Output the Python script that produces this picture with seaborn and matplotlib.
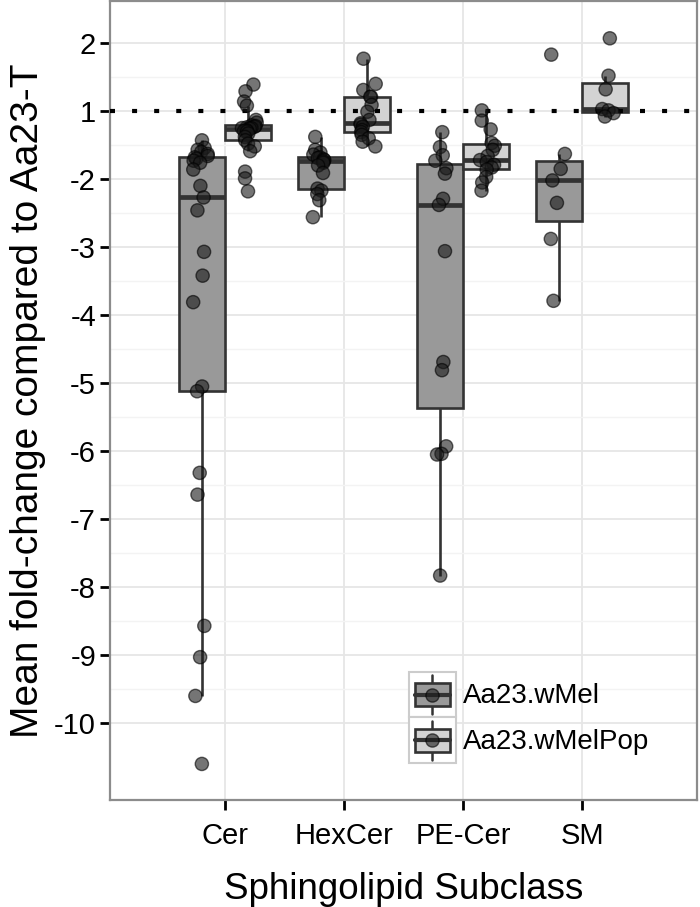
import numpy as np
import pandas as pd
import matplotlib
matplotlib.use('Agg')
import matplotlib.pyplot as plt
from matplotlib.patches import Patch, Rectangle
from matplotlib.lines import Line2D
from matplotlib.legend_handler import HandlerBase
import seaborn as sns

subclasses = ['Cer', 'HexCer', 'PE-Cer', 'SM']
groups = ['Aa23.wMel', 'Aa23.wMelPop']

# mean fold-change per lipid species
cer_wmel = [-1.43, -1.54, -1.57, -1.60, -1.63, -1.66, -1.68, -1.70, -1.73, -1.76, -1.86,
            -2.10, -2.27, -2.46, -3.07, -3.42, -3.81, -5.05, -5.12, -6.32, -6.64,
            -8.57, -9.03, -9.60, -10.60]
cer_wmelpop = [1.39, 1.29, 1.14, 1.08, -1.13, -1.17, -1.21, -1.22, -1.23, -1.24, -1.25,
               -1.25, -1.26, -1.28, -1.29, -1.30, -1.33, -1.38, -1.43, -1.48, -1.52,
               -1.59, -1.89, -1.99, -2.18]
hexcer_wmel = [-1.38, -1.57, -1.61, -1.64, -1.68, -1.69, -1.71, -1.72, -1.74, -1.76,
               -1.80, -1.91, -2.14, -2.17, -2.22, -2.31, -2.56]
hexcer_wmelpop = [1.77, 1.40, 1.31, 1.21, 1.21, 1.09, -1.01, -1.13, -1.18, -1.20,
                  -1.23, -1.28, -1.31, -1.35, -1.40, -1.45, -1.52]
pecer_wmel = [-1.31, -1.53, -1.65, -1.73, -1.84, -1.92, -2.29, -2.38, -3.06, -4.69,
              -4.81, -5.93, -6.04, -6.05, -7.83]
pecer_wmelpop = [1.01, -1.14, -1.27, -1.47, -1.51, -1.57, -1.66, -1.72, -1.75, -1.79,
                 -1.83, -1.86, -1.97, -2.05, -2.17]
sm_wmel = [1.83, -1.63, -1.85, -2.02, -2.35, -2.88, -3.79]
sm_wmelpop = [2.07, 1.52, 1.32, 1.03, 1.01, -1.03, -1.08]

tick_values = [2, 1, -2, -3, -4, -5, -6, -7, -8, -9, -10]
reference_value = 1

box_colors = {'Aa23.wMel': '#999999', 'Aa23.wMelPop': '#D3D3D3'}
point_colors = {'Aa23.wMel': '#1a1a1a', 'Aa23.wMelPop': '#1a1a1a'}
line_color = '#333333'


def to_axis(v):
    # fold changes have no (-1, 1) range, so 1 and -1 sit on the same spot
    v = np.asarray(v, dtype=float)
    return np.where(v > 0, v - 1, v + 1)


series = {
    ('Cer', 'Aa23.wMel'): cer_wmel,
    ('Cer', 'Aa23.wMelPop'): cer_wmelpop,
    ('HexCer', 'Aa23.wMel'): hexcer_wmel,
    ('HexCer', 'Aa23.wMelPop'): hexcer_wmelpop,
    ('PE-Cer', 'Aa23.wMel'): pecer_wmel,
    ('PE-Cer', 'Aa23.wMelPop'): pecer_wmelpop,
    ('SM', 'Aa23.wMel'): sm_wmel,
    ('SM', 'Aa23.wMelPop'): sm_wmelpop,
}
rows = []
for (sub, grp), vals in series.items():
    for v in vals:
        rows.append({'subclass': sub, 'group': grp, 'fold': v})
df = pd.DataFrame(rows)
df['pos'] = to_axis(df['fold'])


class BoxKey(HandlerBase):
    # ggplot-style boxplot legend key: bordered square, box, whisker and a dot
    def create_artists(self, legend, orig_handle, xdescent, ydescent,
                       width, height, fontsize, trans):
        x0, y0 = -xdescent, -ydescent
        cx, cy = x0 + width / 2, y0 + height / 2
        frame = Rectangle((x0, y0), width, height, fc='white', ec='#CCCCCC',
                          lw=1.5, transform=trans)
        whisk = Line2D([cx, cx], [y0 + 0.08 * height, y0 + 0.92 * height],
                       color=line_color, lw=1.8, transform=trans)
        box = Rectangle((x0 + 0.12 * width, y0 + 0.25 * height), 0.76 * width, 0.5 * height,
                        fc=orig_handle.get_facecolor(), ec=line_color, lw=1.9, transform=trans)
        med = Line2D([x0 + 0.12 * width, x0 + 0.88 * width], [cy, cy],
                     color=line_color, lw=3, transform=trans)
        dot = Line2D([cx], [cy], marker='o', ms=9.5, color='#1a1a1a', alpha=0.6,
                     mec='black', mew=1, transform=trans)
        return [frame, whisk, box, med, dot]


sns.set_theme(style='whitegrid')
plt.rcParams['font.family'] = ['Liberation Sans', 'DejaVu Sans']

fig = plt.figure(figsize=(7, 9.07), dpi=100)
ax = fig.add_axes([0.157, 0.118, 0.839, 0.881])

sns.boxplot(data=df, x='subclass', y='pos', hue='group', order=subclasses,
            hue_order=groups, palette=box_colors, saturation=1, width=0.77, gap=0,
            whis=1.5, showfliers=False, showcaps=False, linecolor=line_color,
            linewidth=1.9, medianprops={'color': line_color, 'linewidth': 3.4},
            legend=False, ax=ax)

ax.axhline(to_axis(reference_value), color='black', lw=3, dashes=(1.2, 4.1), zorder=3)

np.random.seed(3)
sns.stripplot(data=df, x='subclass', y='pos', hue='group', order=subclasses,
              hue_order=groups, dodge=True, jitter=0.14, palette=point_colors,
              size=9.5, alpha=0.6, linewidth=1, edgecolor='black', legend=False,
              ax=ax, zorder=4)

tick_pos = to_axis(tick_values)
ax.set_yticks(tick_pos)
ax.set_yticklabels([str(v) for v in tick_values])
ax.set_yticks(np.sort(tick_pos)[:-1] + 0.5, minor=True)
ax.set_ylim(-10.13, 1.62)
ax.set_xlim(-0.966, 3.966)

ax.grid(False)
ax.set_axisbelow(True)
ax.grid(which='major', axis='both', color='#E6E6E6', lw=1.3)
ax.grid(which='minor', axis='y', color='#F3F3F3', lw=1.0)
ax.tick_params(which='major', length=7, width=2, color='black', labelsize=21,
               labelcolor='black', pad=3, left=True, bottom=True)
ax.tick_params(axis='x', pad=9)
ax.tick_params(which='minor', length=0)
for s in ax.spines.values():
    s.set_color('#8C8C8C')
    s.set_linewidth(1.6)

ax.set_xlabel('Sphingolipid Subclass', fontsize=26.5, color='black', labelpad=16)
ax.set_ylabel('Mean fold-change compared to Aa23-T', fontsize=28, color='black', labelpad=6)

handles = [Patch(facecolor=box_colors[g]) for g in groups]
leg = ax.legend(handles, groups, handler_map={Patch: BoxKey()}, loc='lower left',
                bbox_to_anchor=(0.509, 0.046), frameon=False, fontsize=20,
                handlelength=1.7, handleheight=2.16, labelspacing=0, handletextpad=0.25,
                borderpad=0, borderaxespad=0)
for t in leg.get_texts():
    t.set_color('black')

fig.savefig('out.png', dpi=100)
